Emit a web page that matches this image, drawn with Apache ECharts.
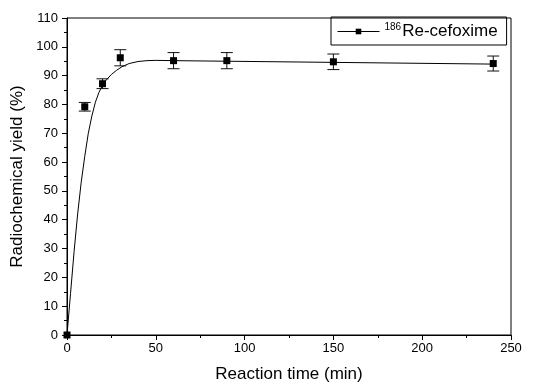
<!DOCTYPE html>
<html>
<head>
<meta charset="utf-8">
<script src="https://cdn.jsdelivr.net/npm/echarts@6/dist/echarts.min.js"></script>
<style>html,body{margin:0;padding:0;background:#fff}#c{width:534px;height:388px}</style>
</head>
<body>
<div id="c"></div>
<script>
// Measured data points
var times = [0, 10, 20, 30, 60, 90, 150, 240];
var yields = [0, 79.2, 87.2, 96.2, 95.2, 95.2, 94.8, 94.2];
var errors = [0, 1.5, 1.7, 2.8, 2.8, 2.8, 2.7, 2.6];
// Fitted curve
var fitTimes = [0, 2, 4, 6, 8, 10, 12, 14, 16, 18, 20, 22, 25, 28, 31, 35, 40, 45, 50, 60, 90, 150, 240];
var fitYields = [0, 14.5, 29, 42, 53, 62, 70, 76, 80.8, 84.2, 86.6, 88.4, 90.4, 91.9, 93.1, 94.2, 94.9, 95.2, 95.3, 95.2, 95.0, 94.6, 94.0];
var xTicks = [0, 50, 100, 150, 200, 250];
var yTicks = [0, 10, 20, 30, 40, 50, 60, 70, 80, 90, 100, 110];
var seriesName = 'Re-cefoxime';
var superscript = '186';

var pts = times.map(function (t, i) { return [t, yields[i]]; });
var errData = times.map(function (t, i) { return [t, yields[i], errors[i]]; });
var fit = fitTimes.map(function (t, i) { return [t, fitYields[i]]; });

var font = 'Arial, "Liberation Sans", sans-serif';
var chart = echarts.init(document.getElementById('c'));
chart.setOption({
  animation: false,
  backgroundColor: '#fff',
  textStyle: { fontFamily: font },
  grid: { left: 67, right: 23, top: 18, bottom: 51, show: true, borderColor: '#000', borderWidth: 1 },
  legend: {
    left: 331, top: 17,
    padding: [5, 9, 5, 6],
    borderColor: '#000', borderWidth: 1,
    itemWidth: 42, itemHeight: 7,
    data: [{ name: seriesName }],
    lineStyle: { width: 1, color: '#000', opacity: 1 },
    formatter: function (n) { return '{s|' + superscript + '}{t|' + n + '}'; },
    textStyle: {
      fontFamily: font, color: '#000',
      rich: {
        s: { fontSize: 10, fontFamily: font, color: '#000', padding: [0, 1, 9, 0] },
        t: { fontSize: 17, fontFamily: font, color: '#000' }
      }
    }
  },
  xAxis: {
    type: 'value', min: xTicks[0], max: xTicks[xTicks.length - 1], interval: 50,
    name: 'Reaction time (min)', nameLocation: 'middle', nameGap: 31,
    nameTextStyle: { fontSize: 17, color: '#000', fontFamily: font },
    axisLine: { lineStyle: { color: '#000', width: 1 } },
    axisTick: { show: true, inside: false, length: 5, lineStyle: { color: '#000' } },
    minorTick: { show: true, splitNumber: 2, length: 3, lineStyle: { color: '#000' } },
    axisLabel: { fontSize: 13, color: '#000', margin: 7, fontFamily: font },
    splitLine: { show: false }
  },
  yAxis: {
    type: 'value', min: yTicks[0], max: yTicks[yTicks.length - 1], interval: 10,
    name: 'Radiochemical yield (%)', nameLocation: 'middle', nameGap: 39,
    nameTextStyle: { fontSize: 17, color: '#000', fontFamily: font },
    axisLine: { show: true, lineStyle: { color: '#000', width: 1 } },
    axisTick: { show: true, inside: false, length: 5, lineStyle: { color: '#000' } },
    minorTick: { show: true, splitNumber: 2, length: 3, lineStyle: { color: '#000' } },
    axisLabel: { fontSize: 13, color: '#000', margin: 9, fontFamily: font },
    splitLine: { show: false }
  },
  series: [
    {
      name: 'fit', type: 'line', data: fit, showSymbol: false, symbol: 'none',
      smooth: false,
      lineStyle: { color: '#000', width: 1 }, z: 2, silent: true
    },
    {
      name: 'err', type: 'custom', data: errData, z: 3, silent: true,
      renderItem: function (params, api) {
        var x = api.value(0), y = api.value(1), e = api.value(2);
        if (!e) return null;
        var top = api.coord([x, y + e]);
        var bot = api.coord([x, y - e]);
        var hw = 6;
        var st = { stroke: '#111', lineWidth: 1 };
        return {
          type: 'group',
          children: [
            { type: 'line', shape: { x1: top[0], y1: top[1], x2: bot[0], y2: bot[1] }, style: st },
            { type: 'line', shape: { x1: top[0] - hw, y1: top[1], x2: top[0] + hw, y2: top[1] }, style: st },
            { type: 'line', shape: { x1: bot[0] - hw, y1: bot[1], x2: bot[0] + hw, y2: bot[1] }, style: st }
          ]
        };
      }
    },
    {
      name: seriesName, type: 'line', data: pts,
      symbol: 'rect', symbolSize: 7,
      itemStyle: { color: '#000' },
      lineStyle: { width: 0, opacity: 0 }, z: 4
    }
  ]
});
</script>
</body>
</html>
